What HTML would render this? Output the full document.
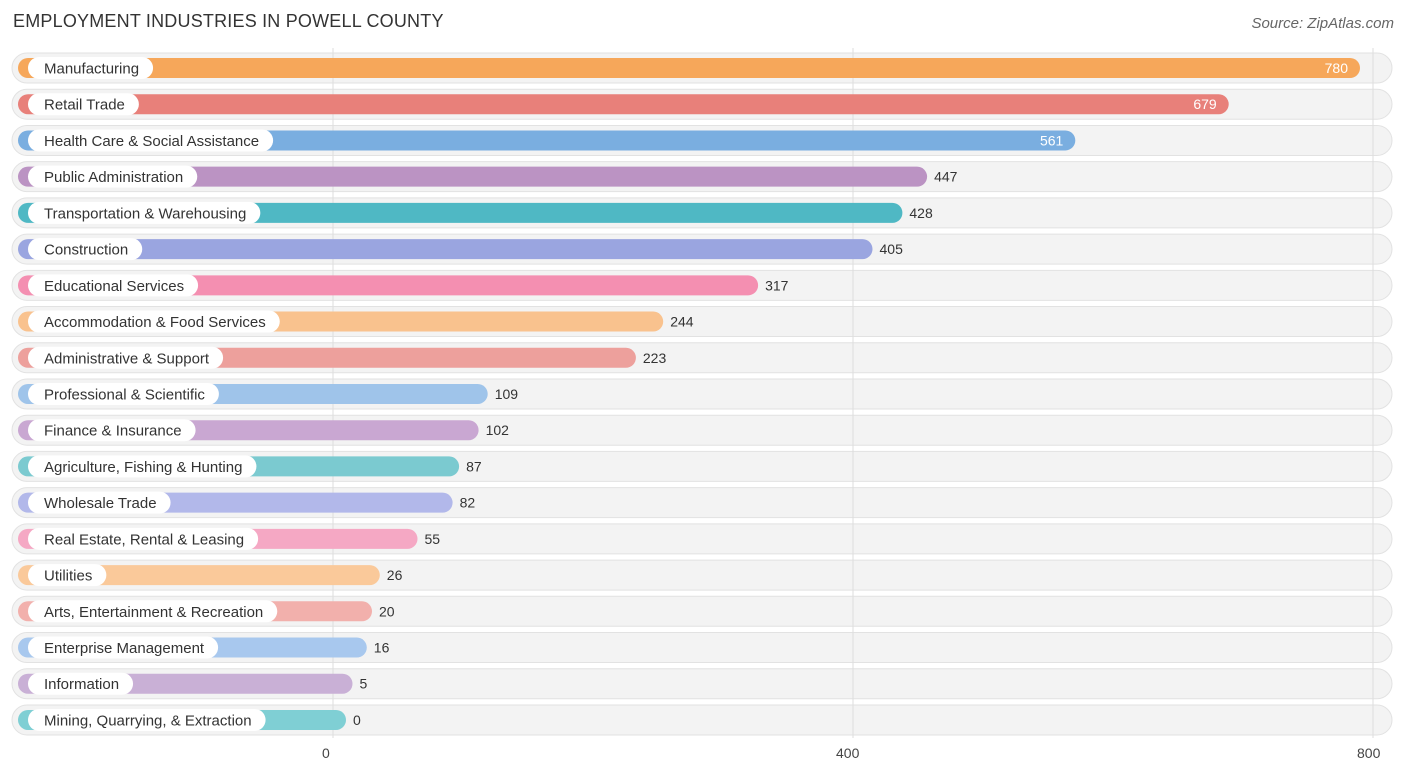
<!DOCTYPE html>
<html><head><meta charset="utf-8"><style>
body{margin:0;width:1406px;height:776px;background:#fff;font-family:"Liberation Sans",sans-serif;overflow:hidden;position:relative}
.title{position:absolute;left:13px;top:11px;font-size:18px;color:#333;letter-spacing:0.2px}
.src{position:absolute;right:12px;top:15px;font-size:15px;color:#666;font-style:italic}
svg{position:absolute;left:0;top:0}
</style></head><body>
<div class="title">EMPLOYMENT INDUSTRIES IN POWELL COUNTY</div>
<div class="src">Source: ZipAtlas.com</div>
<svg id="chart" width="1406" height="776"></svg>
<script>
const categories=["Manufacturing","Retail Trade","Health Care & Social Assistance","Public Administration","Transportation & Warehousing","Construction","Educational Services","Accommodation & Food Services","Administrative & Support","Professional & Scientific","Finance & Insurance","Agriculture, Fishing & Hunting","Wholesale Trade","Real Estate, Rental & Leasing","Utilities","Arts, Entertainment & Recreation","Enterprise Management","Information","Mining, Quarrying, & Extraction"];
const values=[780,679,561,447,428,405,317,244,223,109,102,87,82,55,26,20,16,5,0];
const colors=["#f6a75a","#e8807a","#7aaee0","#bb93c3","#4fb8c4","#9aa5e0","#f48fb1","#f9c28e","#eda09c","#9fc4ea","#c9a7d2","#7bcad0","#b2b8ea","#f5a8c4","#fac99a","#f2b0ac","#a8c8ee","#c9b0d6","#7fcfd4"];
const ticks=[0,400,800];
const NS="http://www.w3.org/2000/svg";
const svg=document.getElementById('chart');
const x=v=>333+v*1.3;
const barEnd=v=>346+v*1.3;
const y=i=>68+i*36.22;
function mk(t,a,p){const e=document.createElementNS(NS,t);for(const k in a)e.setAttribute(k,a[k]);(p||svg).appendChild(e);return e;}
// row backgrounds
categories.forEach((c,i)=>{
 const r=mk('rect',{x:12,y:y(i)-15,width:1380,height:30,rx:15,fill:'#f3f3f3',stroke:'#e2e2e2','stroke-width':1});
 
 
});
// gridlines
ticks.forEach(t=>{
 const l=mk('line',{x1:x(t),x2:x(t),y1:48,y2:738,stroke:'#ddd','stroke-width':1});
 
 
 const tx=mk('text',{x:x(t)-(t===0?11:t===400?17:16),y:758,'font-size':14,fill:'#444'});
 tx.textContent=t;
 
 
});
categories.forEach((c,i)=>{
 const cy=y(i),v=values[i],e=barEnd(v);
 const b=mk('rect',{x:18,y:cy-10,width:e-18,height:20,rx:10,fill:colors[i]});
 
 
 const lab=mk('text',{x:44,y:cy+5.5,'font-size':15,fill:'#333'});
 lab.textContent=c;
 const w=lab.getComputedTextLength();
 const pill=mk('rect',{x:28,y:cy-11,width:w+30,height:22,rx:11,fill:'#fff'});
 svg.insertBefore(pill,lab);
 
 
 
 
 const inside=v>500;
 const vt=mk('text',{x:inside?e-12:e+7,y:cy+5,'font-size':14,fill:inside?'#fff':'#333','text-anchor':inside?'end':'start'});
 vt.textContent=v;
 
 
});
</script>
</body></html>
